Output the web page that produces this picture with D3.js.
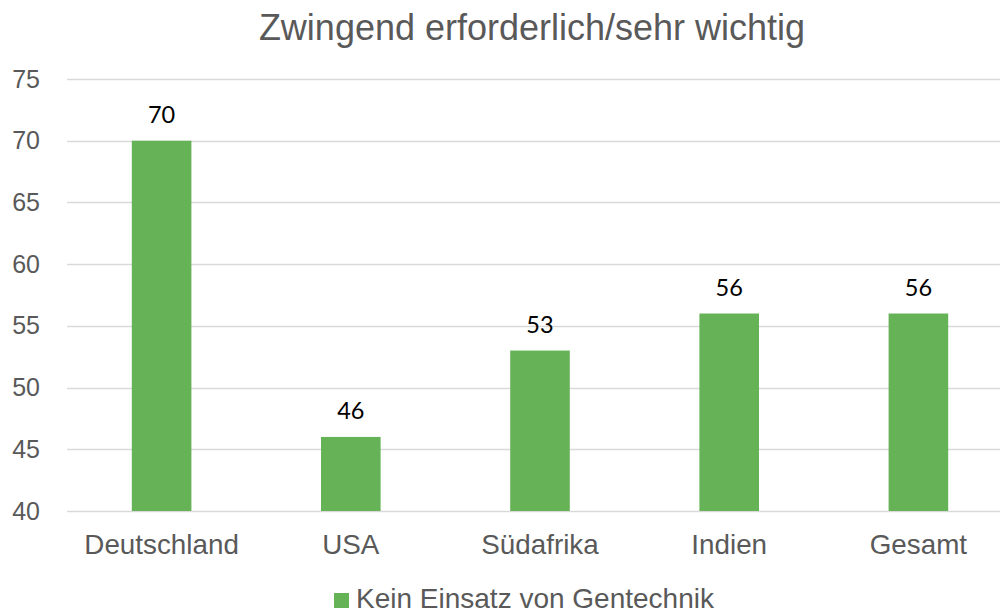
<!DOCTYPE html>
<html>
<head>
<meta charset="utf-8">
<script src="https://cdn.jsdelivr.net/npm/d3@7"></script>
<style>
  body { margin: 0; background: #fff; }
  svg { display: block; }
</style>
</head>
<body>
<svg></svg>
<script>
const width = 1000;
const height = 613;
const margin = {top: 79, right: -13, bottom: 102, left: 67};

const categories = ["Deutschland", "USA", "Südafrika", "Indien", "Gesamt"];
const values = [70, 46, 53, 56, 56];
const yTicks = [40, 45, 50, 55, 60, 65, 70, 75];
const seriesName = "Kein Einsatz von Gentechnik";
const title = "Zwingend erforderlich/sehr wichtig";

const barColor = "#66b257";
const textColor = "#595959";

let svg = d3.select("svg")
    .attr("width", width)
    .attr("height", height);

let data = categories.map((c, i) => ({label: c, value: values[i]}));

// шкалы
let scaleX = d3.scaleBand()
    .domain(categories)
    .range([margin.left, width - margin.right])
    .paddingInner(0.685)
    .paddingOuter(0.3425);

let scaleY = d3.scaleLinear()
    .domain([40, 75])
    .range([height - margin.bottom, margin.top]);

// сетка
svg.append("g")
    .selectAll("line")
    .data(yTicks)
    .enter()
    .append("line")
    .attr("x1", margin.left)
    .attr("x2", width - margin.right)
    .attr("y1", d => Math.round(scaleY(d)) + 0.5)
    .attr("y2", d => Math.round(scaleY(d)) + 0.5)
    .attr("stroke", "#d9d9d9")
    .attr("stroke-width", 1.3);

// ось Y
let axisY = d3.axisLeft(scaleY).tickValues(yTicks).tickSize(0).tickPadding(27);
let gY = svg.append("g")
    .attr("transform", `translate(${margin.left}, 0)`)
    .call(axisY);
gY.select(".domain").remove();
gY.selectAll("text")
    .style("font-family", "'Liberation Sans', Arial, sans-serif")
    .style("font-size", "25px")
    .attr("fill", textColor);

// ось X
let axisX = d3.axisBottom(scaleX).tickSize(0).tickPadding(23);
let gX = svg.append("g")
    .attr("transform", `translate(0, ${height - margin.bottom})`)
    .call(axisX);
gX.select(".domain").remove();
gX.selectAll("text")
    .style("font-family", "'Liberation Sans', Arial, sans-serif")
    .style("font-size", "27.8px")
    .attr("fill", textColor);

// столбцы
svg.selectAll(".bar")
    .data(data)
    .enter()
    .append("rect")
    .attr("class", "bar")
    .attr("x", d => scaleX(d.label))
    .attr("y", d => scaleY(d.value))
    .attr("width", scaleX.bandwidth())
    .attr("height", d => scaleY(40) - scaleY(d.value))
    .attr("fill", barColor);

// подписи значений
svg.selectAll(".val")
    .data(data)
    .enter()
    .append("text")
    .attr("class", "val")
    .attr("x", d => scaleX(d.label) + scaleX.bandwidth() / 2)
    .attr("y", d => scaleY(d.value) - 18)
    .attr("text-anchor", "middle")
    .style("font-family", "Lato, 'Open Sans', sans-serif")
    .style("font-size", "23.5px")
    .attr("fill", "#000")
    .text(d => d.value);

// заголовок
svg.append("text")
    .attr("x", 532)
    .attr("y", 40)
    .attr("text-anchor", "middle")
    .style("font-family", "'Liberation Sans', Arial, sans-serif")
    .style("font-size", "36px")
    .attr("fill", textColor)
    .text(title);

// легенда
let legend = svg.append("g").attr("transform", "translate(334, 593)");
legend.append("rect")
    .attr("width", 15)
    .attr("height", 15)
    .attr("fill", barColor);
legend.append("text")
    .attr("x", 22)
    .attr("y", 15)
    .style("font-family", "'Liberation Sans', Arial, sans-serif")
    .style("font-size", "28px")
    .attr("fill", textColor)
    .text(seriesName);
</script>
</body>
</html>
